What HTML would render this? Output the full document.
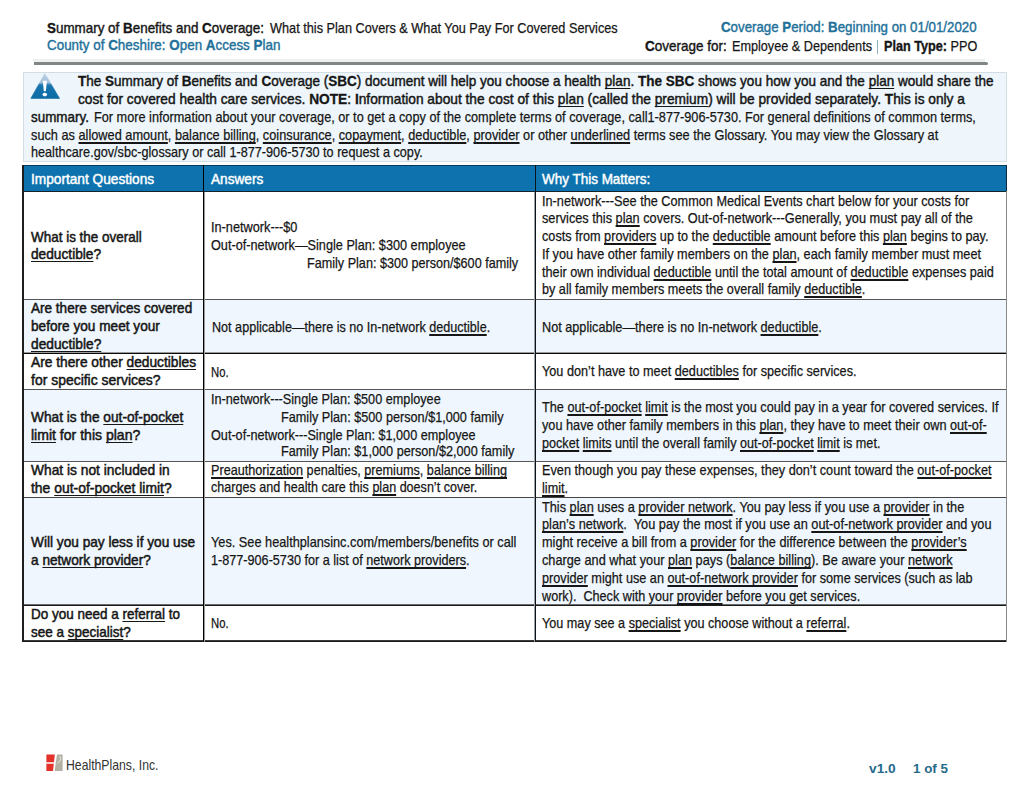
<!DOCTYPE html>
<html><head><meta charset="utf-8"><title>Summary of Benefits and Coverage</title>
<style>
*{margin:0;padding:0;box-sizing:border-box}
html,body{width:1024px;height:791px;background:#fff;overflow:hidden}
body{position:relative;font-family:"Liberation Sans",Arial,sans-serif;color:#161616}
.t{position:absolute;white-space:pre;transform-origin:0 0;line-height:20px;font-size:14.3px}
.t b{font-weight:bold}
.b{font-weight:bold}
.b b.x{-webkit-text-stroke:0.35px #161616}
.md{-webkit-text-stroke:0.45px #161616}
.q{-webkit-text-stroke:0.5px #161616}
.md b.x{-webkit-text-stroke:0.3px #161616}
.t:not(.b):not(.md):not(.q){-webkit-text-stroke:0.25px currentColor}
.hd{color:#161616}
.hd .m{-webkit-text-stroke:0.4px currentColor}
.hd b{-webkit-text-stroke:0.35px currentColor}
.teal{color:#22719a}
.bar{color:#22719a}
.white{color:#fff;-webkit-text-stroke:0.45px #fff !important}
.logo{color:#333;-webkit-text-stroke:0 !important}
.foot{color:#256a8b}
u{text-decoration:underline;text-decoration-thickness:1.5px;text-underline-offset:1.8px;text-decoration-skip-ink:none}
.q u,.md u{text-decoration-thickness:1px;text-underline-offset:1.9px}
.box{position:absolute}
</style></head><body>
<!-- header rule -->
<div class="box" style="left:33px;top:59px;width:952px;height:3px;background:#eef0f0"></div>
<div class="box" style="left:34px;top:62px;width:954px;height:3px;background:#7f8787;border-radius:0 2px 2px 0"></div>
<div class="box" style="left:877px;top:40px;width:1px;height:14px;background:#8fb4c4"></div>
<!-- SBC box -->
<div class="box" style="left:23px;top:72px;width:984px;height:90px;background:#eef6fc;border:1px solid #d3dde4"></div>
<svg class="box" style="left:28px;top:70px" width="36" height="32" viewBox="28 70 36 32">
  <defs><linearGradient id="tg" x1="0" y1="73" x2="0" y2="99" gradientUnits="userSpaceOnUse">
    <stop offset="0" stop-color="#c4d6e5"/><stop offset="0.38" stop-color="#9dbcd8"/><stop offset="0.43" stop-color="#3a87bd"/><stop offset="0.5" stop-color="#1574ae"/><stop offset="1" stop-color="#0d6ba4"/></linearGradient></defs>
  <path d="M44.8 73.4 L59.6 98.4 L30.8 98.4 Z" fill="url(#tg)" stroke="url(#tg)" stroke-width="0.6" stroke-linejoin="round"/>
  <path d="M42.8 80.8 L47.0 80.8 L45.8 91.2 L43.8 91.2 Z" fill="#fff"/>
  <ellipse cx="44.8" cy="94.6" rx="2.3" ry="1.8" fill="#fff"/>
</svg>
<!-- table backgrounds -->
<div class="box" style="left:23px;top:165px;width:984px;height:26px;background:#0d72ad"></div>
<div class="box" style="left:23px;top:299px;width:984px;height:54px;background:#eff6fd"></div>
<div class="box" style="left:23px;top:389px;width:984px;height:72px;background:#eff6fd"></div>
<div class="box" style="left:23px;top:497px;width:984px;height:108px;background:#eff6fd"></div>
<!-- horizontal lines -->
<div class="box" style="left:22px;top:165px;width:985px;height:1px;background:#0b3a58"></div>
<div class="box" style="left:22px;top:191px;width:985px;height:1px;background:#14222c"></div>
<div class="box" style="left:22px;top:299px;width:985px;height:1px;background:#555"></div>
<div class="box" style="left:22px;top:352px;width:985px;height:1px;background:#9a9a9a"></div>
<div class="box" style="left:22px;top:353px;width:985px;height:1px;background:#0a0a0a"></div>
<div class="box" style="left:22px;top:389px;width:985px;height:1px;background:#555"></div>
<div class="box" style="left:22px;top:461px;width:985px;height:1px;background:#555"></div>
<div class="box" style="left:22px;top:497px;width:985px;height:1px;background:#444"></div>
<div class="box" style="left:22px;top:604px;width:985px;height:1px;background:#6a6a6a"></div>
<div class="box" style="left:22px;top:605px;width:985px;height:1px;background:#1a1a1a"></div>
<div class="box" style="left:22px;top:640px;width:985px;height:1px;background:#3a3a3a"></div>
<div class="box" style="left:22px;top:641px;width:985px;height:1px;background:#1a1a1a"></div>
<!-- vertical lines -->
<div class="box" style="left:22px;top:165px;width:2px;height:477px;background:#1e1e1e"></div>
<div class="box" style="left:203px;top:165px;width:1px;height:477px;background:#000"></div>
<div class="box" style="left:204px;top:192px;width:1px;height:450px;background:#9a9a9a"></div>
<div class="box" style="left:535px;top:165px;width:1px;height:477px;background:#0d1318"></div>
<div class="box" style="left:534px;top:192px;width:1px;height:450px;background:#9aa0a6"></div>
<div class="box" style="left:1006px;top:165px;width:1px;height:27px;background:#0b2a40"></div>
<div class="box" style="left:1006px;top:191px;width:1px;height:451px;background:#8a8a8a"></div>
<!-- logo -->
<svg class="box" style="left:44px;top:752px" width="22" height="22" viewBox="44 752 22 22">
  <path d="M46.4 754.4 L54.8 754.4 L54.0 762.2 L46.4 762.2 Z" fill="#e4322b"/>
  <path d="M46.4 763.8 L53.8 763.8 L53.0 771.1 L46.4 771.1 Z" fill="#e4322b"/>
  <path d="M57.0 754.4 L62.6 754.4 L62.6 771.1 L54.6 771.1 Z" fill="#b3b1a3"/>
  <path d="M59.5 756 C61.5 758 60.5 761 57.5 763.5" stroke="#fff" stroke-width="0.8" fill="none"/>
</svg>

<div class="t hd" style="left:47.3px;top:17.54px;font-size:14.6px;transform:scaleX(0.9192)"><span class="m"><b>S</b>ummary of <b>B</b>enefits and <b>C</b>overage:</span></div>
<div class="t hd" style="left:270.4px;top:17.54px;font-size:14.6px;transform:scaleX(0.8713)">What this Plan Covers &amp; What You Pay For Covered Services</div>
<div class="t hd teal" style="left:47.3px;top:35.34px;font-size:14.6px;transform:scaleX(0.9191)"><span class="m">County of <b>C</b>heshire: <b>O</b>pen <b>A</b>ccess <b>P</b>lan</span></div>
<div class="t hd teal" style="left:721.0px;top:17.34px;font-size:14.6px;transform:scaleX(0.9104)"><span class="m"><b>C</b>overage <b>P</b>eriod: <b>B</b>eginning on 01/01/2020</span></div>
<div class="t hd" style="left:645.1px;top:35.84px;font-size:14.6px;transform:scaleX(0.9238)"><span class="m"><b>C</b>overage for:</span></div>
<div class="t hd" style="left:731.7px;top:35.84px;font-size:14.6px;transform:scaleX(0.8671)">Employee &amp; Dependents</div>
<div class="t hd" style="left:883.5px;top:35.84px;font-size:14.6px;transform:scaleX(0.8672)"><b>Plan Type:</b> PPO</div>
<div class="t md" style="left:78.4px;top:71.35px;font-size:14.3px;transform:scaleX(0.9457)"><b class="x">T</b>he <b class="x">S</b>ummary of <b class="x">B</b>enefits and <b class="x">C</b>overage (<b class="x">SBC</b>) document will help you choose a health <u>plan</u>. <b class="x">The SBC</b> shows you how you and the <u>plan</u> would share the</div>
<div class="t md" style="left:78.4px;top:89.45px;font-size:14.3px;transform:scaleX(0.9599)">cost for covered health care services. <b class="x">NOTE</b>: <b class="x">I</b>nformation about the cost of this <u>plan</u> (called the <u>premium</u>) will be provided separately. <b class="x">T</b>his is only a</div>
<div class="t md" style="left:30.7px;top:106.85px;font-size:14.3px;transform:scaleX(0.9384)">summary.</div>
<div class="t " style="left:93.6px;top:106.85px;font-size:14.3px;transform:scaleX(0.8885)">For more information about your coverage, or to get a copy of the complete terms of coverage, call1-877-906-5730. For general definitions of common terms,</div>
<div class="t " style="left:30.7px;top:124.95px;font-size:14.3px;transform:scaleX(0.8920)">such as <u>allowed amount</u>, <u>balance billing</u>, <u>coinsurance</u>, <u>copayment</u>, <u>deductible</u>, <u>provider</u> or other <u>underlined</u> terms see the Glossary. You may view the Glossary at</div>
<div class="t " style="left:30.7px;top:142.35px;font-size:14.3px;transform:scaleX(0.8856)">healthcare.gov/sbc-glossary or call 1-877-906-5730 to request a copy.</div>
<div class="t md white" style="left:30.7px;top:168.55px;font-size:14.3px;transform:scaleX(0.9561)">Important Questions</div>
<div class="t md white" style="left:211.0px;top:168.55px;font-size:14.3px;transform:scaleX(0.9539)">Answers</div>
<div class="t md white" style="left:542.2px;top:168.55px;font-size:14.3px;transform:scaleX(0.9423)">Why This Matters:</div>
<div class="t q" style="left:30.7px;top:226.95px;font-size:14.3px;transform:scaleX(0.9413)">What is the overall</div>
<div class="t q" style="left:30.7px;top:243.95px;font-size:14.3px;transform:scaleX(0.9584)"><u>deductible</u>?</div>
<div class="t " style="left:211.0px;top:217.45px;font-size:14.3px;transform:scaleX(0.8903)">In-network---$0</div>
<div class="t " style="left:211.0px;top:235.45px;font-size:14.3px;transform:scaleX(0.8874)">Out-of-network—Single Plan: $300 employee</div>
<div class="t " style="left:306.9px;top:253.15px;font-size:14.3px;transform:scaleX(0.8825)">Family Plan: $300 person/$600 family</div>
<div class="t " style="left:542.2px;top:190.65px;font-size:14.3px;transform:scaleX(0.8888)">In-network---See the Common Medical Events chart below for your costs for</div>
<div class="t " style="left:542.2px;top:208.40px;font-size:14.3px;transform:scaleX(0.8909)">services this <u>plan</u> covers. Out-of-network---Generally, you must pay all of the</div>
<div class="t " style="left:542.2px;top:226.15px;font-size:14.3px;transform:scaleX(0.8880)">costs from <u>providers</u> up to the <u>deductible</u> amount before this <u>plan</u> begins to pay.</div>
<div class="t " style="left:542.2px;top:243.90px;font-size:14.3px;transform:scaleX(0.8897)">If you have other family members on the <u>plan</u>, each family member must meet</div>
<div class="t " style="left:542.2px;top:261.65px;font-size:14.3px;transform:scaleX(0.8881)">their own individual <u>deductible</u> until the total amount of <u>deductible</u> expenses paid</div>
<div class="t " style="left:542.2px;top:279.40px;font-size:14.3px;transform:scaleX(0.8847)">by all family members meets the overall family <u>deductible</u>.</div>
<div class="t q" style="left:30.7px;top:298.05px;font-size:14.3px;transform:scaleX(0.9479)">Are there services covered</div>
<div class="t q" style="left:30.7px;top:315.85px;font-size:14.3px;transform:scaleX(0.9540)">before you meet your</div>
<div class="t q" style="left:30.7px;top:334.25px;font-size:14.3px;transform:scaleX(0.9612)"><u>deductible?</u></div>
<div class="t " style="left:211.6px;top:316.55px;font-size:14.3px;transform:scaleX(0.8817)">Not applicable—there is no In-network <u>deductible</u>.</div>
<div class="t " style="left:542.3px;top:316.55px;font-size:14.3px;transform:scaleX(0.8871)">Not applicable—there is no In-network <u>deductible</u>.</div>
<div class="t q" style="left:30.7px;top:352.35px;font-size:14.3px;transform:scaleX(0.9616)">Are there other <u>deductibles</u></div>
<div class="t q" style="left:30.7px;top:369.55px;font-size:14.3px;transform:scaleX(0.9760)">for specific services?</div>
<div class="t " style="left:211.4px;top:361.75px;font-size:14.3px;transform:scaleX(0.7910)">No.</div>
<div class="t " style="left:542.3px;top:361.15px;font-size:14.3px;transform:scaleX(0.8866)">You don’t have to meet <u>deductibles</u> for specific services.</div>
<div class="t q" style="left:30.7px;top:406.75px;font-size:14.3px;transform:scaleX(0.9581)">What is the <u>out-of-pocket</u></div>
<div class="t q" style="left:30.7px;top:424.75px;font-size:14.3px;transform:scaleX(0.9823)"><u>limit</u> for this <u>plan</u>?</div>
<div class="t " style="left:211.0px;top:389.15px;font-size:14.3px;transform:scaleX(0.8866)">In-network---Single Plan: $500 employee</div>
<div class="t " style="left:281.3px;top:407.25px;font-size:14.3px;transform:scaleX(0.8860)">Family Plan: $500 person/$1,000 family</div>
<div class="t " style="left:211.0px;top:424.55px;font-size:14.3px;transform:scaleX(0.8856)">Out-of-network---Single Plan: $1,000 employee</div>
<div class="t " style="left:281.3px;top:441.05px;font-size:14.3px;transform:scaleX(0.8872)">Family Plan: $1,000 person/$2,000 family</div>
<div class="t " style="left:542.3px;top:397.35px;font-size:14.3px;transform:scaleX(0.8892)">The <u>out-of-pocket</u> <u>limit</u> is the most you could pay in a year for covered services. If</div>
<div class="t " style="left:542.3px;top:415.05px;font-size:14.3px;transform:scaleX(0.8882)">you have other family members in this <u>plan</u>, they have to meet their own <u>out-of-</u></div>
<div class="t " style="left:542.3px;top:432.65px;font-size:14.3px;transform:scaleX(0.8835)"><u>pocket</u> <u>limits</u> until the overall family <u>out-of-pocket</u> <u>limit</u> is met.</div>
<div class="t q" style="left:30.7px;top:460.25px;font-size:14.3px;transform:scaleX(0.9642)">What is not included in</div>
<div class="t q" style="left:30.7px;top:477.55px;font-size:14.3px;transform:scaleX(0.9728)">the <u>out-of-pocket limit</u>?</div>
<div class="t " style="left:211.0px;top:460.05px;font-size:14.3px;transform:scaleX(0.8846)"><u>Preauthorization</u> penalties, <u>premiums</u>, <u>balance billing</u></div>
<div class="t " style="left:211.0px;top:476.85px;font-size:14.3px;transform:scaleX(0.8790)">charges and health care this <u>plan</u> doesn’t cover.</div>
<div class="t " style="left:542.3px;top:460.05px;font-size:14.3px;transform:scaleX(0.8892)">Even though you pay these expenses, they don’t count toward the <u>out-of-pocket</u></div>
<div class="t " style="left:542.3px;top:477.65px;font-size:14.3px;transform:scaleX(0.8860)"><u>limit</u>.</div>
<div class="t q" style="left:30.7px;top:531.85px;font-size:14.3px;transform:scaleX(0.9561)">Will you pay less if you use</div>
<div class="t q" style="left:30.7px;top:549.55px;font-size:14.3px;transform:scaleX(0.9540)">a <u>network provider</u>?</div>
<div class="t " style="left:211.0px;top:532.25px;font-size:14.3px;transform:scaleX(0.8909)">Yes. See healthplansinc.com/members/benefits or call</div>
<div class="t " style="left:211.0px;top:549.95px;font-size:14.3px;transform:scaleX(0.8842)">1-877-906-5730 for a list of <u>network providers</u>.</div>
<div class="t " style="left:542.3px;top:496.55px;font-size:14.3px;transform:scaleX(0.8915)">This <u>plan</u> uses a <u>provider network</u>. You pay less if you use a <u>provider</u> in the</div>
<div class="t " style="left:542.3px;top:514.35px;font-size:14.3px;transform:scaleX(0.8925)"><u>plan’s network</u>.  You pay the most if you use an <u>out-of-network provider</u> and you</div>
<div class="t " style="left:542.3px;top:532.15px;font-size:14.3px;transform:scaleX(0.8892)">might receive a bill from a <u>provider</u> for the difference between the <u>provider’s</u></div>
<div class="t " style="left:542.3px;top:549.95px;font-size:14.3px;transform:scaleX(0.8907)">charge and what your <u>plan</u> pays (<u>balance billing</u>). Be aware your <u>network</u></div>
<div class="t " style="left:542.3px;top:567.75px;font-size:14.3px;transform:scaleX(0.8870)"><u>provider</u> might use an <u>out-of-network provider</u> for some services (such as lab</div>
<div class="t " style="left:542.3px;top:585.55px;font-size:14.3px;transform:scaleX(0.8840)">work).  Check with your <u>provider</u> before you get services.</div>
<div class="t q" style="left:30.7px;top:603.65px;font-size:14.3px;transform:scaleX(0.9426)">Do you need a <u>referral</u> to</div>
<div class="t q" style="left:30.7px;top:622.25px;font-size:14.3px;transform:scaleX(0.9431)">see a <u>specialist</u>?</div>
<div class="t " style="left:211.4px;top:612.65px;font-size:14.3px;transform:scaleX(0.7910)">No.</div>
<div class="t " style="left:542.3px;top:612.95px;font-size:14.3px;transform:scaleX(0.8838)">You may see a <u>specialist</u> you choose without a <u>referral</u>.</div>
<div class="t logo" style="left:66.0px;top:755.28px;font-size:14.2px;transform:scaleX(0.8623)">HealthPlans, Inc.</div>
<div class="t b foot" style="left:868.7px;top:759.19px;font-size:13.6px;transform:scaleX(1.0087)">v1.0</div>
<div class="t b foot" style="left:913.1px;top:759.19px;font-size:13.6px;transform:scaleX(0.9827)">1 of 5</div>
</body></html>
